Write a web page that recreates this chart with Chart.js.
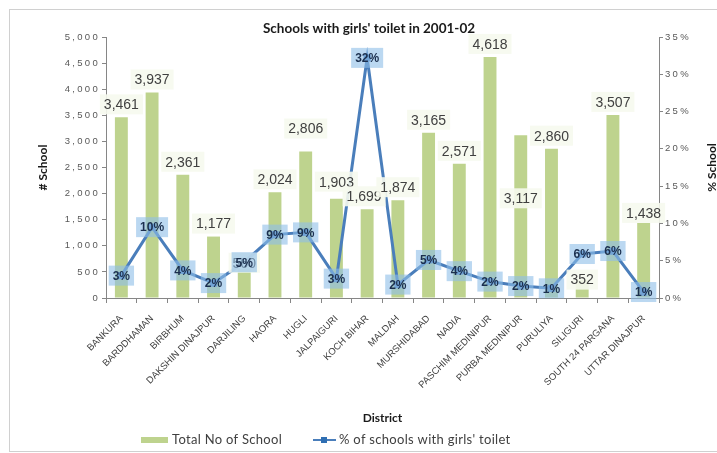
<!DOCTYPE html>
<html>
<head>
<meta charset="utf-8">
<title>Schools with girls' toilet in 2001-02</title>
<script src="https://cdn.jsdelivr.net/npm/chart.js@4.4.1/dist/chart.umd.min.js"></script>
<style>
  html, body { margin: 0; padding: 0; background: #fff; }
  #wrap { width: 717px; height: 453px; }
</style>
</head>
<body>
<div id="wrap"><canvas id="schools" width="717" height="453"></canvas></div>
<script>
const districts = [
  "BANKURA", "BARDDHAMAN", "BIRBHUM", "DAKSHIN DINAJPUR", "DARJILING", "HAORA",
  "HUGLI", "JALPAIGURI", "KOCH BIHAR", "MALDAH", "MURSHIDABAD", "NADIA",
  "PASCHIM MEDINIPUR", "PURBA MEDINIPUR", "PURULIYA", "SILIGURI",
  "SOUTH 24 PARGANA", "UTTAR DINAJPUR"
];
const totalSchools = [3461, 3937, 2361, 1177, 560, 2024, 2806, 1903, 1699, 1874, 3165, 2571, 4618, 3117, 2860, 352, 3507, 1438];
const pctWithToilet = [3.0, 9.5, 3.7, 2.0, 4.8, 8.5, 8.8, 2.6, 32.2, 1.8, 5.1, 3.6, 2.2, 1.6, 1.3, 5.9, 6.3, 0.8];
const schoolTicks = [0, 500, 1000, 1500, 2000, 2500, 3000, 3500, 4000, 4500, 5000];
const pctTicks = [0, 5, 10, 15, 20, 25, 30, 35];

const GREEN = "rgb(190,211,142)";
const BLUE = "rgb(74,126,187)";
const TEXT = "#404040";

// a few count labels sit away from the default spot above their bar
const countShift = { 4: 7, 6: -10, 7: -4, 13: 76, 15: 13, 17: 3 };
const countShiftX = { 8: -3 };

function fmtCount(v) { return v.toLocaleString("en-US"); }

function spaced(ctx, px) {
  if ("letterSpacing" in ctx) ctx.letterSpacing = px + "px";
}

const decor = {
  id: "decor",
  beforeDraw(chart) {
    const ctx = chart.ctx;
    ctx.save();
    ctx.fillStyle = "#fff";
    ctx.fillRect(0, 0, chart.width, chart.height);
    ctx.strokeStyle = "#d0d0d0";
    ctx.lineWidth = 1;
    ctx.strokeRect(9.5, 9.5, chart.width + 10, chart.height - 11);
    ctx.restore();
  },
  afterDatasetsDraw(chart) {
    const ctx = chart.ctx;
    const bars = chart.getDatasetMeta(0).data;
    const pts = chart.getDatasetMeta(1).data;

    // counts above the bars
    ctx.save();
    ctx.font = '14px "Liberation Sans"';
    ctx.textAlign = "center";
    ctx.textBaseline = "middle";
    bars.forEach((bar, i) => {
      const txt = fmtCount(totalSchools[i]);
      const x = bar.x + (countShiftX[i] || 0);
      const y = bar.y - 13 + (countShift[i] || 0);
      const w = ctx.measureText(txt).width + 8;
      ctx.fillStyle = "rgba(246,249,238,0.9)";
      ctx.fillRect(x - w / 2, y - 10, w, 20);
      ctx.fillStyle = TEXT;
      ctx.fillText(txt, x, y + 1);
    });
    ctx.restore();

    // percentage boxes on the line points
    ctx.save();
    ctx.font = 'bold 12px "Liberation Sans"';
    ctx.textAlign = "center";
    ctx.textBaseline = "middle";
    pts.forEach((p, i) => {
      const txt = Math.round(pctWithToilet[i]) + "%";
      const w = ctx.measureText(txt).width + 8;
      ctx.fillStyle = "rgba(141,190,232,0.6)";
      ctx.fillRect(p.x - w / 2, p.y - 10, w, 20);
      ctx.fillStyle = "#1b2f4e";
      ctx.fillText(txt, p.x, p.y + 1);
    });
    ctx.restore();
  },
  afterDraw(chart) {
    const ctx = chart.ctx;
    const area = chart.chartArea;
    const yL = chart.scales.y;
    const yR = chart.scales.y1;
    const midY = (area.top + area.bottom) / 2;

    // y tick labels, drawn wide-spaced
    ctx.save();
    ctx.font = '9.5px "Liberation Sans"';
    ctx.fillStyle = "#595959";
    ctx.textBaseline = "middle";
    spaced(ctx, 2.3);
    ctx.textAlign = "right";
    yL.ticks.forEach(t => ctx.fillText(fmtCount(t.value), area.left - 6, yL.getPixelForValue(t.value)));
    ctx.textAlign = "left";
    yR.ticks.forEach(t => ctx.fillText(t.value + "%", area.right + 6, yR.getPixelForValue(t.value)));
    ctx.restore();

    // title
    ctx.save();
    ctx.fillStyle = "#1a1a1a";
    ctx.font = 'bold 13.5px Lato';
    ctx.textAlign = "center";
    ctx.textBaseline = "middle";
    ctx.fillText("Schools with girls' toilet in 2001-02", 369, 29);

    // axis titles
    ctx.font = 'bold 12px Lato';
    ctx.fillText("District", (area.left + area.right) / 2, 418);
    ctx.translate(43, midY);
    ctx.rotate(-Math.PI / 2);
    ctx.fillText("# School", 0, 0);
    ctx.restore();

    ctx.save();
    ctx.fillStyle = "#1a1a1a";
    ctx.font = 'bold 12px Lato';
    ctx.textAlign = "center";
    ctx.textBaseline = "middle";
    ctx.translate(712, midY);
    ctx.rotate(-Math.PI / 2);
    ctx.fillText("% School", 0, 0);
    ctx.restore();

    // legend
    ctx.save();
    ctx.font = '13px Lato';
    spaced(ctx, 0.3);
    ctx.textBaseline = "middle";
    const ly = 440;
    ctx.fillStyle = GREEN;
    ctx.fillRect(141, ly - 3, 27, 6);
    ctx.fillStyle = TEXT;
    ctx.fillText("Total No of School", 172, ly);
    ctx.strokeStyle = BLUE;
    ctx.lineWidth = 2;
    ctx.beginPath();
    ctx.moveTo(313, ly);
    ctx.lineTo(336, ly);
    ctx.stroke();
    ctx.fillStyle = "#2f6fb3";
    ctx.fillRect(321, ly - 3, 6, 6);
    ctx.fillStyle = TEXT;
    ctx.fillText("% of schools with girls' toilet", 339, ly);
    ctx.restore();
  }
};

new Chart(document.getElementById("schools"), {
  data: {
    labels: districts,
    datasets: [
      {
        type: "bar",
        label: "Total No of School",
        data: totalSchools,
        backgroundColor: GREEN,
        yAxisID: "y",
        categoryPercentage: 1,
        barPercentage: 0.42,
        order: 1
      },
      {
        type: "line",
        label: "% of schools with girls' toilet",
        data: pctWithToilet,
        borderColor: BLUE,
        borderWidth: 3,
        pointStyle: "rect",
        pointRadius: 3,
        pointBackgroundColor: BLUE,
        pointBorderColor: BLUE,
        tension: 0,
        yAxisID: "y1",
        order: 0
      }
    ]
  },
  options: {
    responsive: false,
    animation: false,
    devicePixelRatio: 1,
    layout: { padding: { top: 37, left: 0, right: 0, bottom: 0 } },
    plugins: {
      legend: { display: false },
      title: { display: false },
      tooltip: { enabled: false }
    },
    scales: {
      x: {
        grid: { drawOnChartArea: false, drawTicks: true, tickLength: 5, color: "#868686", offset: true },
        border: { color: "#868686" },
        ticks: {
          maxRotation: 45,
          minRotation: 45,
          autoSkip: false,
          padding: 10,
          color: TEXT,
          font: { family: "Liberation Sans", size: 9.5 }
        },
        afterFit: s => { s.height = 155; }
      },
      y: {
        position: "left",
        min: 0,
        max: 5000,
        afterBuildTicks: s => { s.ticks = schoolTicks.map(v => ({ value: v })); },
        grid: { drawOnChartArea: false, drawTicks: true, tickLength: 4, color: "#868686" },
        border: { color: "#868686" },
        ticks: { display: false },
        afterFit: s => { s.width = 106; }
      },
      y1: {
        position: "right",
        min: 0,
        max: 35,
        afterBuildTicks: s => { s.ticks = pctTicks.map(v => ({ value: v })); },
        grid: { drawOnChartArea: false, drawTicks: true, tickLength: 4, color: "#868686" },
        border: { color: "#868686" },
        ticks: { display: false },
        afterFit: s => { s.width = 58; }
      }
    }
  },
  plugins: [decor]
});
</script>
</body>
</html>
